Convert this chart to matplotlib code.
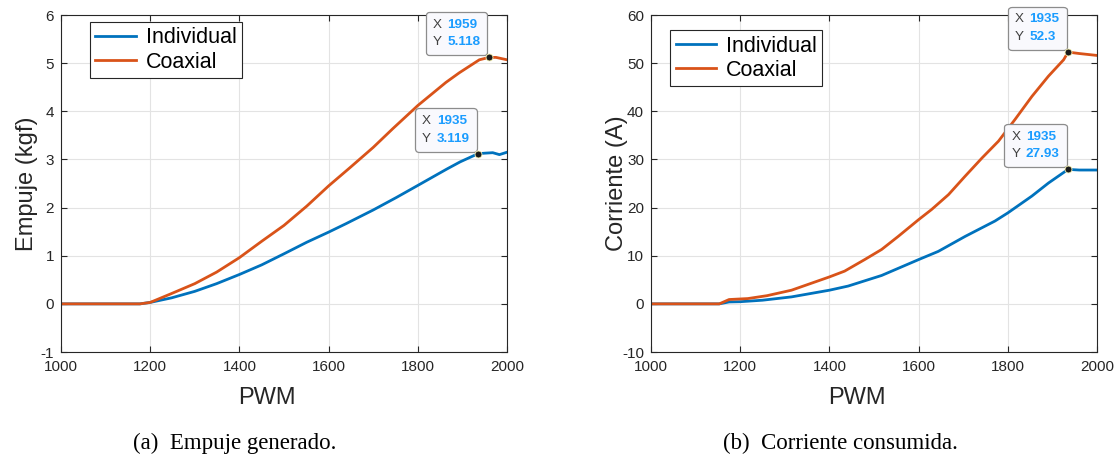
import matplotlib
matplotlib.use('Agg')
import matplotlib.pyplot as plt
from matplotlib.offsetbox import TextArea, HPacker, VPacker, AnnotationBbox

plt.rcParams['font.family'] = 'Liberation Sans'

# Empuje (kgf)
pwm_emp_ind = [1000, 1100, 1177, 1200, 1248, 1300, 1349, 1400, 1450, 1500, 1551, 1600,
               1640, 1700, 1752, 1800, 1842, 1865, 1895, 1935, 1950, 1968, 1983, 2000]
emp_ind = [0, 0, 0, 0.03, 0.125, 0.26, 0.42, 0.61, 0.81, 1.04, 1.28, 1.49,
           1.67, 1.95, 2.21, 2.46, 2.68, 2.80, 2.95, 3.119, 3.13, 3.14, 3.10, 3.15]
pwm_emp_coa = [1000, 1100, 1177, 1200, 1248, 1300, 1349, 1400, 1450, 1500, 1551, 1600,
               1648, 1700, 1744, 1800, 1863, 1893, 1938, 1959, 1975, 2000]
emp_coa = [0, 0, 0, 0.03, 0.215, 0.42, 0.66, 0.96, 1.3, 1.63, 2.03, 2.45,
           2.83, 3.25, 3.64, 4.12, 4.6, 4.8, 5.07, 5.118, 5.12, 5.07]

# Corriente (A)
pwm_cor_ind = [1000, 1100, 1153, 1175, 1200, 1250, 1315, 1400, 1442, 1517, 1600, 1644,
               1704, 1771, 1800, 1854, 1891, 1935, 1960, 2000]
cor_ind = [0, 0, 0, 0.4, 0.45, 0.76, 1.45, 2.84, 3.7, 5.9, 9.2, 10.9,
           14.0, 17.2, 18.9, 22.4, 25.1, 27.93, 27.8, 27.8]
pwm_cor_coa = [1000, 1100, 1153, 1175, 1217, 1260, 1315, 1400, 1434, 1479, 1517, 1554,
               1600, 1629, 1667, 1704, 1742, 1779, 1816, 1854, 1891, 1925, 1935, 1960, 2000]
cor_coa = [0, 0, 0, 0.9, 1.1, 1.7, 2.84, 5.6, 6.8, 9.2, 11.3, 14.0,
           17.5, 19.6, 22.7, 26.5, 30.3, 33.8, 38.3, 43.1, 47.3, 50.7, 52.3, 52.0, 51.6]

tips_emp = [(1959, 5.118, '1959', '5.118'), (1935, 3.119, '1935', '3.119')]
tips_cor = [(1935, 52.3, '1935', '52.3'), (1935, 27.93, '1935', '27.93')]

blue = '#0072BD'
orange = '#D95319'
dark = '#262626'


def datatip(ax, x, y, xs, ys):
    lab = dict(color='#404040', fontsize=9.7)
    val = dict(color='#1a9cff', fontsize=9.7, fontweight='bold')
    row1 = HPacker(children=[TextArea('X', textprops=lab), TextArea(xs, textprops=val)],
                   sep=4, pad=0, align='baseline')
    row2 = HPacker(children=[TextArea('Y', textprops=lab), TextArea(ys, textprops=val)],
                   sep=4, pad=0, align='baseline')
    box = VPacker(children=[row1, row2], sep=4, pad=0, align='left')
    ab = AnnotationBbox(box, (x, y), xybox=(-6, 6.5), boxcoords='offset points',
                        box_alignment=(1, 0), annotation_clip=False,
                        bboxprops=dict(boxstyle='round,pad=0.5,rounding_size=0.25',
                                       fc='#f9f9fd', ec='#8c8c8c', lw=0.9),
                        frameon=True, zorder=6)
    ax.add_artist(ab)
    ax.plot(x, y, 'o', color='#1a1a1a', mec='#f5f0b0', mew=0.6, ms=5, zorder=7,
            clip_on=False)


def style(ax, yticks, ylim, ylabel):
    ax.set_xlim(1000, 2000)
    ax.set_ylim(*ylim)
    ax.set_xticks(range(1000, 2001, 200))
    ax.set_yticks(yticks)
    ax.grid(True, color='#e3e3e3', linewidth=0.8)
    ax.set_axisbelow(True)
    ax.tick_params(direction='in', top=True, right=True, length=4, width=0.8,
                   labelsize=11, colors=dark, labelcolor=dark)
    ax.tick_params(axis='x', pad=6)
    ax.tick_params(axis='y', pad=5)
    for s in ax.spines.values():
        s.set_color(dark)
        s.set_linewidth(0.8)
    ax.set_xlabel('PWM', fontsize=17, color=dark)
    ax.set_ylabel(ylabel, fontsize=17, color=dark)
    ax.xaxis.set_label_coords(0.462, -0.105)
    ax.yaxis.set_label_coords(-0.052, 0.5)


fig = plt.figure(figsize=(11.19, 4.59), dpi=100)
ax1 = fig.add_axes([0.0545, 0.2331, 0.3986, 0.7342])
ax2 = fig.add_axes([0.5818, 0.2331, 0.3986, 0.7342])

ax1.plot(pwm_emp_ind, emp_ind, color=blue, linewidth=2, label='Individual')
ax1.plot(pwm_emp_coa, emp_coa, color=orange, linewidth=2, label='Coaxial')
style(ax1, range(-1, 7), (-1, 6), 'Empuje (kgf)')
ax1.set_yticklabels([str(v) for v in range(-1, 7)])
for t in tips_emp:
    datatip(ax1, *t)

ax2.plot(pwm_cor_ind, cor_ind, color=blue, linewidth=2, label='Individual')
ax2.plot(pwm_cor_coa, cor_coa, color=orange, linewidth=2, label='Coaxial')
style(ax2, range(-10, 61, 10), (-10, 60), 'Corriente (A)')
ax2.set_yticklabels([str(v) for v in range(-10, 61, 10)])
for t in tips_cor:
    datatip(ax2, *t)

for ax, anchor in [(ax1, (0.065, 0.979)), (ax2, (0.043, 0.955))]:
    leg = ax.legend(loc='upper left', bbox_to_anchor=anchor, fontsize=15.5,
                    handlelength=1.9, handletextpad=0.45, borderpad=0.25,
                    labelspacing=0.15, fancybox=False, framealpha=1,
                    edgecolor=dark, borderaxespad=0)
    leg.get_frame().set_linewidth(0.8)

fig.text(235 / 1119, 1 - 443 / 459, '(a)  Empuje generado.', family='Liberation Serif',
         fontsize=16.5, ha='center', va='center', color='black')
fig.text(840 / 1119, 1 - 443 / 459, '(b)  Corriente consumida.', family='Liberation Serif',
         fontsize=16.5, ha='center', va='center', color='black')

plt.savefig('out.png', dpi=100)
